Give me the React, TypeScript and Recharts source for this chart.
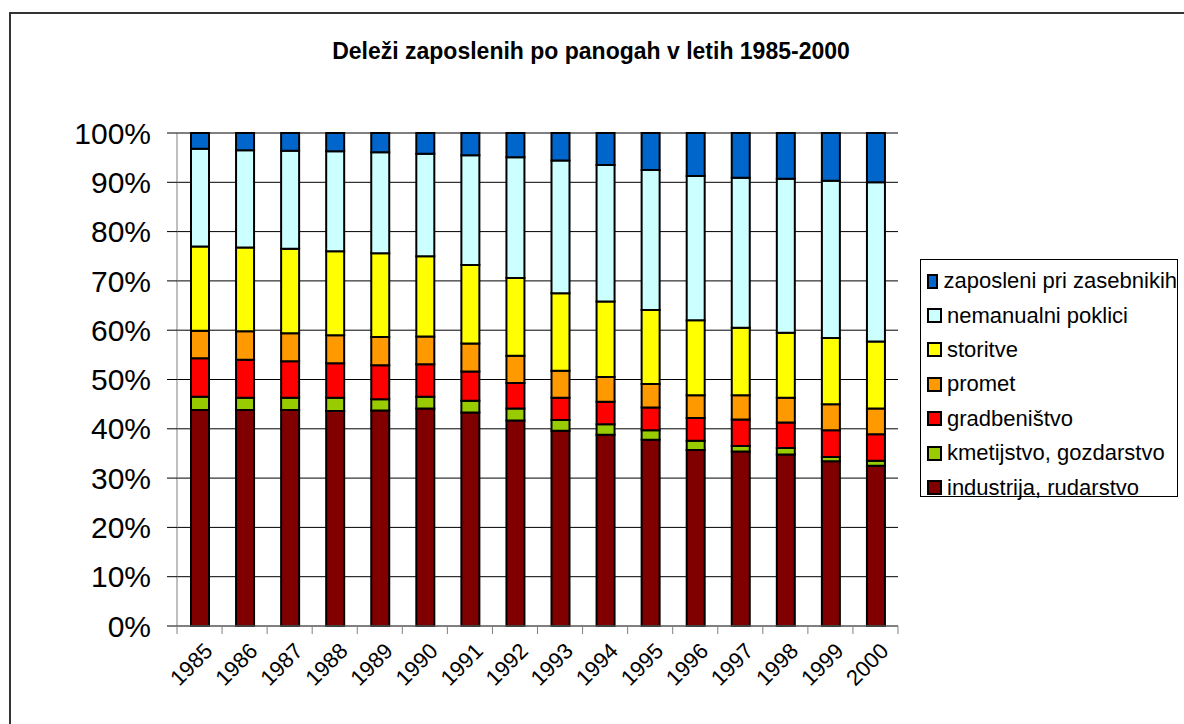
import { BarChart, Bar, XAxis, YAxis, CartesianGrid } from 'recharts';

const years = ['1985', '1986', '1987', '1988', '1989', '1990', '1991', '1992', '1993', '1994', '1995', '1996', '1997', '1998', '1999', '2000'];

// shares in % (bottom to top of each bar)
const industrija = [43.8, 43.8, 43.8, 43.6, 43.7, 44.1, 43.3, 41.7, 39.6, 38.8, 37.8, 35.7, 35.4, 34.8, 33.4, 32.5];
const kmetijstvo = [2.7, 2.5, 2.5, 2.7, 2.3, 2.4, 2.4, 2.4, 2.2, 2.1, 1.9, 1.9, 1.1, 1.3, 0.9, 1.0];
const gradbenistvo = [7.8, 7.7, 7.4, 7.0, 6.9, 6.6, 5.9, 5.2, 4.5, 4.6, 4.6, 4.6, 5.4, 5.2, 5.4, 5.4];
const promet = [5.6, 5.8, 5.7, 5.7, 5.7, 5.6, 5.7, 5.5, 5.5, 5.0, 4.8, 4.6, 4.9, 5.0, 5.3, 5.2];
const storitve = [17.1, 17.0, 17.1, 17.0, 17.0, 16.3, 15.9, 15.8, 15.7, 15.3, 15.0, 15.2, 13.7, 13.2, 13.4, 13.6];
const nemanualni = [19.8, 19.7, 19.9, 20.3, 20.5, 20.8, 22.3, 24.5, 26.9, 27.7, 28.4, 29.3, 30.4, 31.2, 31.9, 32.3];
const zasebniki = [3.2, 3.5, 3.6, 3.7, 3.9, 4.2, 4.5, 4.9, 5.6, 6.5, 7.5, 8.7, 9.1, 9.3, 9.7, 10.0];

const yTicks = [0, 0.1, 0.2, 0.3, 0.4, 0.5, 0.6, 0.7, 0.8, 0.9, 1];

const series = [
  { key: 'ind', name: 'industrija, rudarstvo', color: '#800000', values: industrija },
  { key: 'kme', name: 'kmetijstvo, gozdarstvo', color: '#99CC00', values: kmetijstvo },
  { key: 'gra', name: 'gradbeništvo', color: '#FF0000', values: gradbenistvo },
  { key: 'pro', name: 'promet', color: '#FF9900', values: promet },
  { key: 'sto', name: 'storitve', color: '#FFFF00', values: storitve },
  { key: 'nem', name: 'nemanualni poklici', color: '#CCFFFF', values: nemanualni },
  { key: 'zas', name: 'zaposleni pri zasebnikih', color: '#0066CC', values: zasebniki },
];

const data = years.map((y, i) => {
  const row: any = { year: y };
  series.forEach(s => { row[s.key] = s.values[i]; });
  return row;
});

const FONT = 'Arial, "Liberation Sans", sans-serif';
const PLOT_LEFT = 177;
const PLOT_RIGHT = 898;
const BAND = (PLOT_RIGHT - PLOT_LEFT) / years.length;

const YearTick = ({ x, y, payload, index }: any) => {
  const lx = x - BAND / 2;
  const ax = x + 9;
  const ay = y + 21;
  return (
    <g>
      <line x1={lx} y1={y} x2={lx} y2={y + 8} stroke="#808080" />
      {index === years.length - 1 && <line x1={x + BAND / 2} y1={y} x2={x + BAND / 2} y2={y + 8} stroke="#808080" />}
      <text
        x={ax}
        y={ay}
        transform={`rotate(-45, ${ax}, ${ay})`}
        textAnchor="end"
        dy="0.35em"
        fontSize={22}
        fontFamily={FONT}
        fill="#000"
      >
        {payload.value}
      </text>
    </g>
  );
};

export default function App() {
  return (
    <div style={{ position: 'fixed', left: 0, top: 0, width: 1184, height: 724, overflow: 'hidden', background: '#fff' }}>
      <div style={{ position: 'absolute', left: 9, top: 12, width: 1300, height: 900, border: '2px solid #333' }} />
      <div style={{ position: 'absolute', left: 0, top: 38, width: 1182, textAlign: 'center', fontFamily: FONT, fontWeight: 'bold', fontSize: 23 }}>
        Deleži zaposlenih po panogah v letih 1985-2000
      </div>
      <div style={{ position: 'absolute', left: 0, top: 0 }}>
        <BarChart
          width={1184}
          height={724}
          data={data}
          stackOffset="expand"
          barSize={18}
          margin={{ top: 133, right: 286, bottom: 0, left: 0 }}
        >
          <CartesianGrid horizontal vertical={false} stroke="#000" />
          <XAxis
            dataKey="year"
            tick={<YearTick />}
            tickSize={0}
            tickMargin={0}
            interval={0}
            height={98}
            axisLine={{ stroke: '#808080' }}
          />
          <XAxis xAxisId="top" dataKey="year" orientation="top" height={0} tick={false} tickLine={false} axisLine={{ stroke: '#808080' }} />
          <YAxis
            domain={[0, 1]}
            ticks={yTicks}
            tickFormatter={(v) => `${Math.round(v * 100)}%`}
            width={177}
            tickSize={10}
            tickMargin={16}
            tick={{ fill: '#000', fontSize: 30, fontFamily: FONT }}
            tickLine={{ stroke: '#000' }}
            axisLine={{ stroke: '#808080' }}
          />
          <YAxis yAxisId="right" orientation="right" width={0} tick={false} tickLine={false} axisLine={{ stroke: '#808080' }} />
          {series.map(s => (
            <Bar key={s.key} dataKey={s.key} name={s.name} stackId="a" fill={s.color} stroke="#000" strokeWidth={2} isAnimationActive={false} />
          ))}
        </BarChart>
      </div>
      <div style={{ position: 'absolute', left: 920, top: 259, width: 258, height: 238, border: '1px solid #000', boxSizing: 'border-box', fontFamily: FONT, fontSize: 22, paddingTop: 4 }}>
        {[...series].reverse().map(s => (
          <div key={s.key} style={{ display: 'flex', alignItems: 'center', height: 34.4, whiteSpace: 'nowrap' }}>
            <span style={{ display: 'inline-block', width: 11, height: 11, background: s.color, border: '2px solid #000', marginLeft: 6, marginRight: 5 }} />
            <span>{s.name}</span>
          </div>
        ))}
      </div>
    </div>
  );
}
